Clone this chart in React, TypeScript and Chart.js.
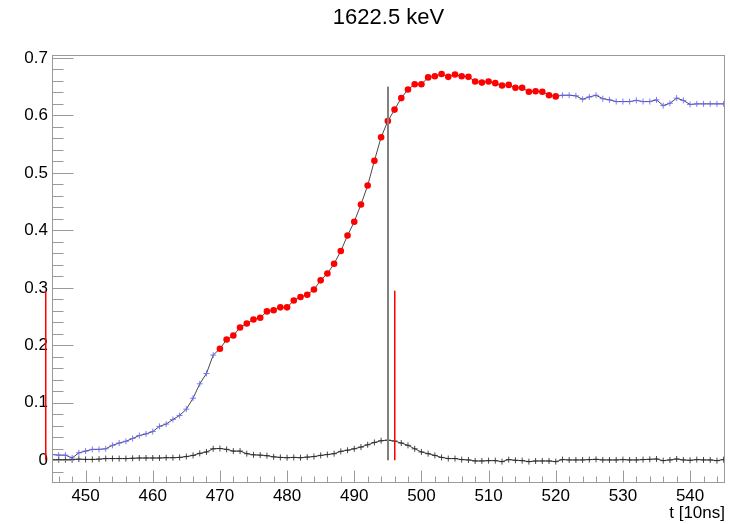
import React, { useEffect, useRef } from "react";
import { Chart, registerables } from "chart.js";

Chart.register(...registerables);

// ---- data ----
const timeBins: number[] = Array.from({ length: 101 }, (_, i) => 445 + i);

const signalValues: number[] = [
  0.010, 0.009, 0.009, 0.004, 0.013, 0.016, 0.019, 0.019, 0.020, 0.026,
  0.030, 0.033, 0.038, 0.043, 0.046, 0.050, 0.059, 0.063, 0.071, 0.078,
  0.089, 0.108, 0.133, 0.151, 0.183, 0.194, 0.210, 0.217, 0.231, 0.238,
  0.245, 0.248, 0.259, 0.261, 0.266, 0.266, 0.278, 0.284, 0.288, 0.297,
  0.313, 0.325, 0.342, 0.364, 0.391, 0.415, 0.445, 0.478, 0.521, 0.562,
  0.590, 0.610, 0.630, 0.645, 0.654, 0.654, 0.666, 0.668, 0.672, 0.667,
  0.671, 0.668, 0.667, 0.659, 0.657, 0.659, 0.656, 0.652, 0.653, 0.648,
  0.648, 0.641, 0.642, 0.641, 0.635, 0.633, 0.635, 0.635, 0.634, 0.628,
  0.632, 0.635, 0.629, 0.627, 0.624, 0.624, 0.624, 0.626, 0.624, 0.624,
  0.627, 0.617, 0.621, 0.630, 0.626, 0.619, 0.620, 0.620, 0.620, 0.620,
  0.620,
];

const baselineValues: number[] = [
  0.001, 0.001, 0.001, 0.001, 0.002, 0.0015, 0.0015, 0.002, 0.003, 0.003,
  0.003, 0.003, 0.0035, 0.004, 0.004, 0.004, 0.004, 0.0045, 0.0045, 0.005,
  0.0065, 0.0085, 0.012, 0.0145, 0.020, 0.0205, 0.019, 0.016, 0.016, 0.0115,
  0.0095, 0.009, 0.008, 0.006, 0.005, 0.0045, 0.005, 0.0045, 0.0055, 0.0065,
  0.0085, 0.010, 0.0115, 0.0155, 0.0175, 0.020, 0.023, 0.027, 0.031, 0.034,
  0.035, 0.0335, 0.030, 0.026, 0.020, 0.0145, 0.0115, 0.0085, 0.005, 0.003,
  0.003, 0.0012, 0.0006, -0.0012, -0.0012, -0.0006, -0.0006, -0.0023, 0.0012, 0.0,
  -0.0006, -0.0023, -0.0012, -0.0012, -0.0012, -0.0023, 0.0012, 0.0006, 0.0006, 0.0006,
  0.0012, 0.0017, 0.0006, 0.0006, 0.0006, 0.0012, 0.0006, 0.0006, 0.0012, 0.0017,
  0.0023, -0.0006, 0.0006, 0.0023, 0.0006, 0.0, 0.0012, 0.0006, 0.0006, -0.0006,
  0.0012,
];

const highlightFrom = 470;
const highlightTo = 520;

// vertical marker lines: x position and top value (each starts at 0)
const markerX = [495, 496, 444];
const markerTop = [0.65, 0.295, 0.295];

const xMin = 445;
const xMax = 545.2;
const yMin = -0.0395;
const yMax = 0.705;

const xMajorTicks = [450, 460, 470, 480, 490, 500, 510, 520, 530, 540];
const yMajorTicks = [0, 0.1, 0.2, 0.3, 0.4, 0.5, 0.6, 0.7];
const xMinorStep = 2;
const yMinorStep = 0.02;

const titleText = "1622.5 keV";
const xAxisTitle = "t [10ns]";

// ---- styles ----
const FONT = "'Liberation Sans', Arial, Helvetica, sans-serif";
const FRAME_COLOR = "#9a9a9a";
const markerStyles = [
  { color: "rgb(128,128,128)", width: 2 },
  { color: "rgb(255,0,0)", width: 1.5 },
  { color: "rgb(255,0,0)", width: 1.5 },
];

const inHighlight = (x: number) => x >= highlightFrom && x <= highlightTo;

const markerPlugin = {
  id: "markerLines",
  afterDraw(chart: any) {
    const xs = chart.scales.x;
    const ys = chart.scales.y;
    const ctx = chart.ctx;
    ctx.save();
    markerX.forEach((mx, i) => {
      const st = markerStyles[i];
      const cx = xs.getPixelForValue(mx);
      const y0 = ys.getPixelForValue(0);
      const y1 = ys.getPixelForValue(markerTop[i]);
      ctx.fillStyle = st.color;
      ctx.fillRect(Math.round(cx - st.width / 2), y1, st.width, y0 - y1);
    });
    ctx.restore();
  },
};

const rootFramePlugin = {
  id: "rootFrame",
  afterDatasetsDraw(chart: any) {
    const { ctx, chartArea } = chart;
    const xs = chart.scales.x;
    const ys = chart.scales.y;
    const l = Math.round(chartArea.left) + 0.5;
    const r = Math.round(chartArea.right) - 0.5;
    const t = Math.round(chartArea.top) + 0.5;
    const b = Math.round(chartArea.bottom) - 0.5;
    ctx.save();
    ctx.strokeStyle = FRAME_COLOR;
    ctx.lineWidth = 1;
    ctx.strokeRect(l, t, r - l, b - t);
    ctx.beginPath();
    for (let v = Math.ceil(xMin / xMinorStep) * xMinorStep; v <= xMax; v += xMinorStep) {
      const px = Math.round(xs.getPixelForValue(v)) + 0.5;
      const major = xMajorTicks.includes(v);
      ctx.moveTo(px, b);
      ctx.lineTo(px, b - (major ? 12 : 6));
    }
    for (let k = Math.ceil(yMin / yMinorStep); k * yMinorStep <= yMax + 1e-9; k++) {
      const v = k * yMinorStep;
      const py = Math.round(ys.getPixelForValue(v)) + 0.5;
      const major = k % 5 === 0;
      ctx.moveTo(l, py);
      ctx.lineTo(l + (major ? 21 : 11), py);
    }
    ctx.stroke();
    ctx.restore();
  },
};

export default function App() {
  const canvasRef = useRef<HTMLCanvasElement | null>(null);

  useEffect(() => {
    document.body.style.margin = "0";
    const canvas = canvasRef.current;
    if (!canvas) return;

    const signalData = timeBins.map((x, i) => ({ x, y: signalValues[i] }));
    const baselineData = timeBins.map((x, i) => ({ x, y: baselineValues[i] }));

    const chart = new Chart(canvas, {
      type: "line",
      data: {
        datasets: [
          {
            label: "signal",
            data: signalData,
            borderColor: "rgba(40,40,40,0.85)",
            borderWidth: 1,
            tension: 0,
            pointStyle: (c: any) => (inHighlight(c.raw?.x) ? "circle" : "cross"),
            pointRadius: (c: any) => (inHighlight(c.raw?.x) ? 3.3 : 3),
            pointBackgroundColor: (c: any) => (inHighlight(c.raw?.x) ? "#ff0000" : "rgba(100,100,255,0.9)"),
            pointBorderColor: (c: any) => (inHighlight(c.raw?.x) ? "#ff0000" : "rgba(100,100,255,0.85)"),
            pointBorderWidth: (c: any) => (inHighlight(c.raw?.x) ? 0 : 1),
            order: 1,
          },
          {
            label: "baseline",
            data: baselineData,
            borderColor: "rgba(40,40,40,0.85)",
            borderWidth: 1,
            tension: 0,
            pointStyle: "cross",
            pointRadius: 3,
            pointBorderColor: "rgba(40,40,40,0.85)",
            pointBorderWidth: 1,
            order: 2,
          },
        ],
      },
      options: {
        responsive: false,
        animation: false,
        devicePixelRatio: 1,
        layout: { padding: { left: 0, right: 5, top: 0, bottom: 0 } },
        plugins: {
          legend: { display: false },
          tooltip: { enabled: false },
          colors: { enabled: false },
          title: {
            display: true,
            text: titleText,
            fullSize: false,
            color: "#000",
            font: { family: FONT, size: 22, weight: "normal", lineHeight: 1.2 },
            padding: { top: 4.3, bottom: 24.3 },
          },
        },
        scales: {
          x: {
            type: "linear",
            min: xMin,
            max: xMax,
            grid: { display: false, drawTicks: false },
            border: { display: false },
            afterBuildTicks: (s: any) => {
              s.ticks = xMajorTicks.map((v) => ({ value: v }));
            },
            afterFit: (s: any) => {
              s.height = 41;
            },
            ticks: {
              color: "#000",
              padding: 3,
              maxRotation: 0,
              autoSkip: false,
              font: { family: FONT, size: 17 },
              callback: (v: any) => String(v),
            },
            title: {
              display: true,
              text: xAxisTitle,
              align: "end",
              color: "#000",
              font: { family: FONT, size: 17, lineHeight: 1.2 },
              padding: { top: 0, bottom: 0.8 },
            },
          },
          y: {
            type: "linear",
            min: yMin,
            max: yMax,
            grid: { display: false, drawTicks: false },
            border: { display: false },
            afterBuildTicks: (s: any) => {
              s.ticks = yMajorTicks.map((v) => ({ value: v }));
            },
            afterFit: (s: any) => {
              s.width = 52;
            },
            ticks: {
              color: "#000",
              padding: 4,
              autoSkip: false,
              font: { family: FONT, size: 17 },
              callback: (v: any) => (v === 0 ? "0" : Number(v).toFixed(1)),
            },
          },
        },
      },
      plugins: [markerPlugin, rootFramePlugin],
    } as any);

    return () => chart.destroy();
  }, []);

  return (
    <canvas
      ref={canvasRef}
      width={730}
      height={524}
      style={{ display: "block", width: 730, height: 524 }}
    />
  );
}
